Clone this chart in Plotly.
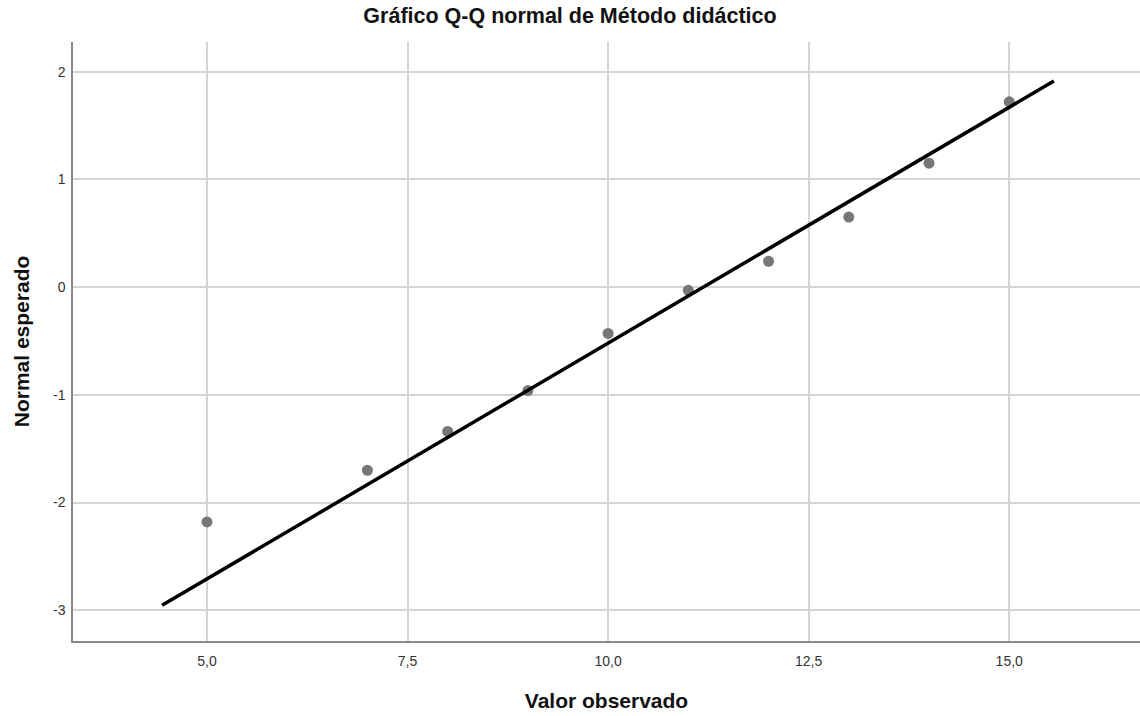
import plotly.graph_objects as go

# Observed values and their expected normal scores
valor_observado = [5, 7, 8, 9, 10, 11, 12, 13, 14, 15]
normal_esperado = [-2.18, -1.70, -1.34, -0.96, -0.43, -0.03, 0.24, 0.65, 1.15, 1.72]

# Reference line endpoints
linea_x = [4.44, 15.557]
linea_y = [-2.954, 1.913]

x_ticks = [5.0, 7.5, 10.0, 12.5, 15.0]
x_tick_text = ["5,0", "7,5", "10,0", "12,5", "15,0"]
y_ticks = [-3, -2, -1, 0, 1, 2]
y_tick_text = ["-3", "-2", "-1", "0", "1", "2"]

FONT = "Liberation Sans, Arial, sans-serif"

fig = go.Figure()
fig.add_trace(go.Scatter(
    x=valor_observado, y=normal_esperado, mode="markers",
    marker=dict(size=11, color="#777777"),
    showlegend=False, hoverinfo="x+y",
))
fig.add_trace(go.Scatter(
    x=linea_x, y=linea_y, mode="lines",
    line=dict(color="#000000", width=3.5),
    showlegend=False, hoverinfo="skip",
))

axis_common = dict(
    showgrid=True, gridcolor="#d4d4d4", gridwidth=1.5,
    zeroline=False, showline=True, linecolor="#8a8a8a", linewidth=1.5,
    ticks="", tickfont=dict(family=FONT, size=14, color="#333333"),
)

fig.update_layout(
    width=1140, height=716,
    margin=dict(l=73, r=0, t=42, b=75),
    paper_bgcolor="white", plot_bgcolor="white",
    title=dict(
        text="<b>Gráfico Q-Q normal de Método didáctico</b>",
        x=0.5, xanchor="center", y=0.979, yanchor="middle",
        font=dict(family=FONT, size=21.5, color="#111111"),
    ),
    xaxis=dict(
        range=[3.33, 16.63], tickvals=x_ticks, ticktext=x_tick_text,
        ticklabelstandoff=6,
        title=dict(text="<b>Valor observado</b>", standoff=26,
                   font=dict(family=FONT, size=21, color="#111111")),
        **axis_common,
    ),
    yaxis=dict(
        range=[-3.285, 2.275], tickvals=y_ticks, ticktext=y_tick_text,
        ticklabelstandoff=3,
        title=dict(text="<b>Normal esperado</b>", standoff=18,
                   font=dict(family=FONT, size=21, color="#111111")),
        **axis_common,
    ),
)

fig.write_html("out.html")
